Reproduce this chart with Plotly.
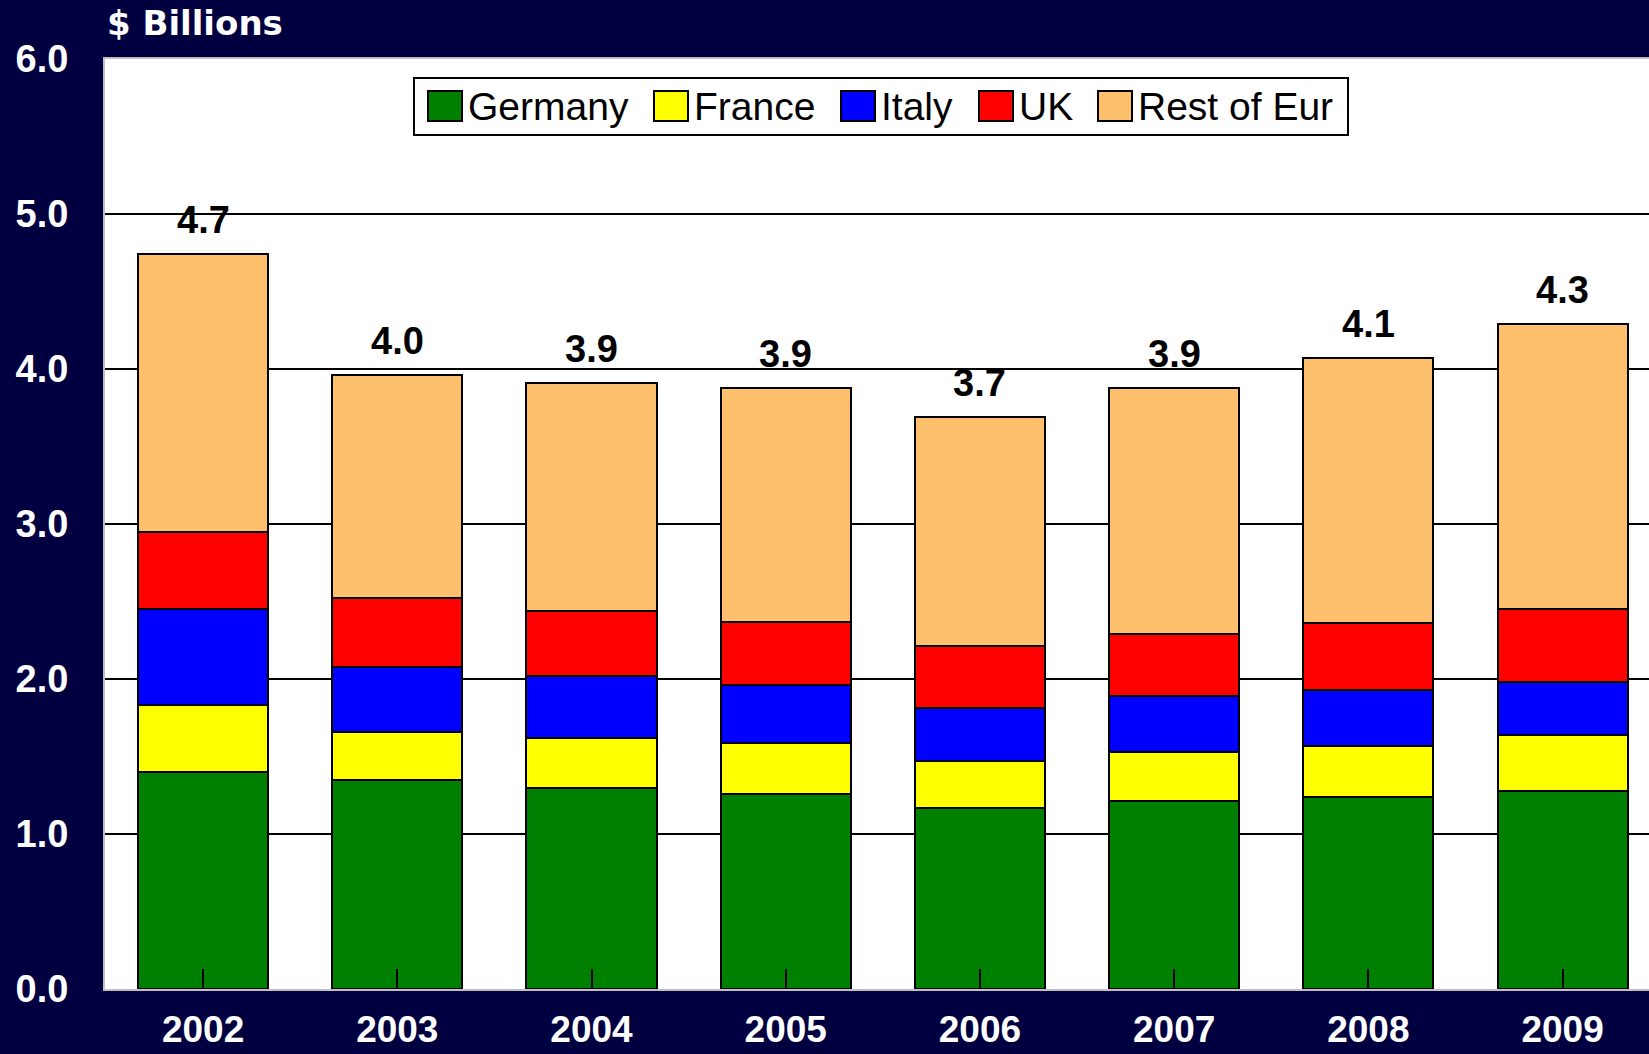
import plotly.graph_objects as go

years = ["2002", "2003", "2004", "2005", "2006", "2007", "2008", "2009"]
series_names = ["Germany", "France", "Italy", "UK", "Rest of Eur"]
germany = [1.40, 1.35, 1.30, 1.26, 1.17, 1.21, 1.24, 1.28]
france = [0.43, 0.31, 0.32, 0.33, 0.30, 0.32, 0.33, 0.36]
italy = [0.62, 0.42, 0.40, 0.37, 0.34, 0.36, 0.36, 0.34]
uk = [0.50, 0.44, 0.42, 0.41, 0.40, 0.40, 0.43, 0.47]
rest = [1.79, 1.44, 1.47, 1.51, 1.48, 1.59, 1.71, 1.84]
y_ticks = [0, 1, 2, 3, 4, 5, 6]

colors = ["#008000", "#FFFF00", "#0000FF", "#FF0000", "#FFC06E"]
BG = "#000040"
FONT = "Liberation Sans, Arial, sans-serif"

W, H = 1649, 1054
ML, MR, MT, MB = 105, 0, 59, 65
PW, PH = W - ML - MR, H - MT - MB


def px(x):
    return (x - ML) / PW


def py(y):
    return (H - MB - y) / PH


all_series = [germany, france, italy, uk, rest]
fig = go.Figure()
for name, vals, col in zip(series_names, all_series, colors):
    fig.add_trace(go.Bar(
        x=years, y=vals, name=name, marker_color=col,
        marker_line_color="black", marker_line_width=2,
        width=0.67, showlegend=False,
    ))

totals = [sum(v) for v in zip(*all_series)]
annotations = []
for i, t in enumerate(totals):
    annotations.append(dict(
        x=i, y=t, xref="x", yref="y", text=f"{t:.1f}", showarrow=False,
        yanchor="middle", yshift=34,
        font=dict(family=FONT, size=38, color="black", weight="bold"),
    ))

# title
annotations.append(dict(
    x=px(105), y=py(23), xref="paper", yref="paper", text="$ Billions",
    showarrow=False, xanchor="left", yanchor="middle",
    font=dict(family="DejaVu Sans, Arial", size=34, color="white", weight="bold"),
))

# custom legend
shapes = [dict(type="rect", xref="paper", yref="paper",
               x0=px(414), x1=px(1348), y0=py(78), y1=py(135),
               line=dict(color="black", width=2), fillcolor="white", layer="above")]
sw_x = [428, 654, 841, 979, 1098]
for name, col, sx in zip(series_names, colors, sw_x):
    shapes.append(dict(type="rect", xref="paper", yref="paper",
                       x0=px(sx), x1=px(sx + 34), y0=py(91), y1=py(121),
                       line=dict(color="black", width=2), fillcolor=col, layer="above"))
    annotations.append(dict(
        x=px(sx + 38), y=py(106), xref="paper", yref="paper", text=name,
        showarrow=False, xanchor="left", yanchor="middle",
        font=dict(family=FONT, size=39, color="black"),
    ))

fig.update_layout(
    width=W, height=H,
    margin=dict(l=ML, r=MR, t=MT, b=MB, pad=0),
    paper_bgcolor=BG, plot_bgcolor="white",
    barmode="stack", bargap=0.33,
    annotations=annotations, shapes=shapes,
    showlegend=False,
)
fig.update_xaxes(
    type="category", range=[-0.505, 7.445], automargin=False,
    showline=True, linecolor="#C0C0C0", linewidth=2, mirror=True,
    ticks="inside", ticklen=20, tickwidth=2, tickcolor="black",
    tickfont=dict(family=FONT, size=37, color="white", weight="bold"),
    ticklabelstandoff=7, showgrid=False,
)
fig.update_yaxes(
    range=[0, 6], tickvals=y_ticks, ticktext=[f"{v:.1f}" for v in y_ticks],
    automargin=False,
    showline=True, linecolor="#C0C0C0", linewidth=2, mirror=True,
    showgrid=True, gridcolor="black", gridwidth=2, zeroline=False,
    ticks="", tickfont=dict(family=FONT, size=38, color="white", weight="bold"),
    ticklabelstandoff=27,
)

fig.write_html("out.html", config={"displayModeBar": False},
               post_script="document.body.style.margin='0';")
